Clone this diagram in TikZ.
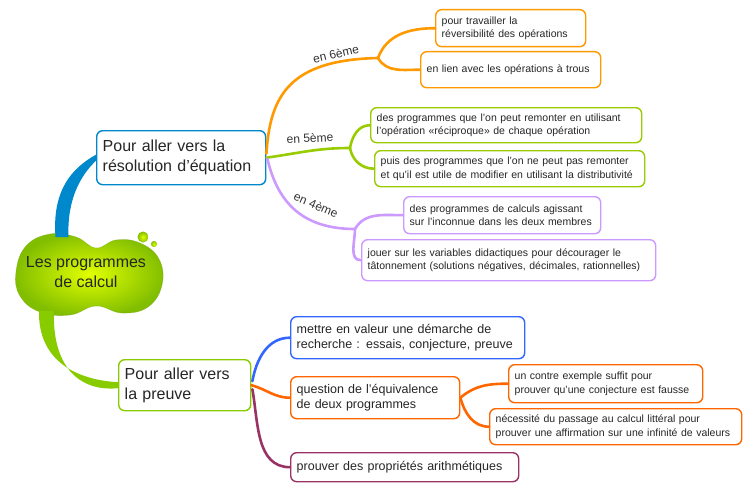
\documentclass[tikz,border=0pt]{standalone}
\usepackage{fontspec}
\setmainfont{Liberation Sans}
\usetikzlibrary{calc}

\definecolor{sixieme}{RGB}{255,153,0}
\definecolor{cinquieme}{RGB}{153,204,0}
\definecolor{quatrieme}{RGB}{204,153,255}
\definecolor{equblue}{RGB}{0,136,204}
\definecolor{preuvegreen}{RGB}{136,204,0}
\definecolor{valblue}{RGB}{51,102,255}
\definecolor{equiorange}{RGB}{255,102,0}
\definecolor{arithpurple}{RGB}{153,51,102}
\definecolor{blobin}{RGB}{225,255,0}
\definecolor{blobout}{RGB}{130,190,0}

\begin{document}
\begin{tikzpicture}[x=1pt, y=-1pt,
        box/.style={draw=#1, line width=1.4pt, rounded corners=6pt, fill=white, align=left,
            inner xsep=6pt, inner ysep=2pt, anchor=north west, text=black!85},
        leaf/.style={box=#1, font=\fontsize{10.5}{13.5}\selectfont},
        mid/.style={box=#1, font=\fontsize{12.5}{15}\selectfont},
        main/.style={box=#1, font=\fontsize{16}{20}\selectfont},
        link/.style={draw=#1, line width=2.6pt, line cap=round},
        grade/.style={font=\fontsize{12}{14}\selectfont, inner sep=1pt, text=black!80}]
    \useasboundingbox (0,0) rectangle (755,495);

    % central blob
    \shade[inner color=blobin, outer color=blobout] plot[smooth cycle, tension=.7] coordinates
        {(16,272) (26,246) (50,234) (76,237) (96,248) (116,240) (140,243) (159,259) (162,285) (148,307) (122,313) (96,306) (70,315) (40,312) (20,296)};
    \draw[blobout!80!black, opacity=.35, line width=.6pt] plot[smooth cycle, tension=.7] coordinates
        {(16,272) (26,246) (50,234) (76,237) (96,248) (116,240) (140,243) (159,259) (162,285) (148,307) (122,313) (96,306) (70,315) (40,312) (20,296)};
    \shade[inner color=blobin, outer color=blobout] (143,237) circle (5.5);
    \shade[inner color=blobin, outer color=blobout] (154,244) circle (3);
    \node[font=\fontsize{16}{20}\selectfont, align=center, text=black!85] (root) at (86,272) {Les programmes\\de calcul};
    \coordinate (rootN) at (62,237);
    \coordinate (rootS) at (47,311);

    % main branches
    \node[main=equblue, text width=157pt, minimum height=54pt] (res) at (96,130) {Pour aller vers la\\résolution d'équation};
    \node[main=preuvegreen, text width=120pt, minimum height=51pt] (preuve) at (118,359) {Pour aller vers\\la preuve};

    \fill[equblue] ($(rootN)+(-6.5,0)$) .. controls (52,190) and (72,168) .. ($(res.west)+(0,-3)$)
        -- ($(res.west)+(0,3)$) .. controls (80,176) and (67,200) .. ($(rootN)+(6.5,0)$) -- cycle;
    \fill[preuvegreen] ($(rootS)+(-8,0)$) .. controls (38,362) and (78,380) .. ($(preuve.west)+(0,-3)$)
        -- ($(preuve.west)+(0,3)$) .. controls (78,392) and (52,365) .. ($(rootS)+(7,0)$) -- cycle;

    % equation side
    \node[leaf=sixieme, text width=138pt, minimum height=37pt] (trav) at (435,9) {pour travailler la\\réversibilité des opérations};
    \node[leaf=sixieme, text width=168pt, minimum height=36pt] (trous) at (420,51) {en lien avec les opérations à trous};
    \node[leaf=cinquieme, text width=259pt, minimum height=35pt] (remont) at (370,107) {des programmes que l'on peut remonter en utilisant\\l'opération «réciproque» de chaque opération};
    \node[leaf=cinquieme, text width=258pt, minimum height=36pt] (distrib) at (374,150) {puis des programmes que l'on ne peut pas remonter\\et qu'il est utile de modifier en utilisant la distributivité};
    \node[leaf=quatrieme, text width=185pt, minimum height=37pt] (membres) at (403,196) {des programmes de calculs agissant\\sur l'inconnue dans les deux membres};
    \node[leaf=quatrieme, text width=282pt, minimum height=41pt] (didac) at (361,239) {jouer sur les variables didactiques pour décourager le\\tâtonnement (solutions négatives, décimales, rationnelles)};

    \coordinate (b6) at (378,58);
    \coordinate (b5) at (350,148);
    \coordinate (b4) at (355,229);
    \draw[link=sixieme] ($(res.east)+(0,-4)$) .. controls (270,95) and (290,60) .. (b6);
    \draw[link=sixieme] (b6) to[out=70,in=180] (trav.west);
    \draw[link=sixieme] (b6) to[out=-60,in=180] (trous.west);
    \draw[link=cinquieme] (res.east) to[out=8,in=180] (b5);
    \draw[link=cinquieme] (b5) to[out=80,in=180] (remont.west);
    \draw[link=cinquieme] (b5) to[out=-80,in=180] (distrib.west);
    \draw[link=quatrieme] ($(res.east)+(1,1)$) .. controls (278,205) and (305,229) .. (b4);
    \draw[link=quatrieme] (b4) to[out=60,in=180] (membres.west);
    \draw[link=quatrieme] (b4) to[out=-90,in=180] (didac.west);

    \node[grade, rotate=13] (l6) at (336,54) {en 6ème};
    \node[grade, rotate=3] (l5) at (310,138) {en 5ème};
    \node[grade, rotate=-23] (l4) at (316,205) {en 4ème};

    % preuve side
    \node[mid=valblue, text width=222pt, minimum height=42pt] (demarche) at (290,316) {mettre en valeur une démarche de\\recherche : essais, conjecture, preuve};
    \node[mid=equiorange, text width=157pt, minimum height=42pt] (equiv) at (290,376) {question de l'équivalence\\de deux programmes};
    \node[mid=arithpurple, text width=216pt, minimum height=29pt] (arith) at (290,452) {prouver des propriétés arithmétiques};
    \node[leaf=equiorange, text width=182pt, minimum height=38pt] (contre) at (508,364) {un contre exemple suffit pour\\prouver qu'une conjecture est fausse};
    \node[leaf=equiorange, text width=240pt, minimum height=36pt] (litteral) at (489,408) {nécessité du passage au calcul littéral pour\\prouver une affirmation sur une infinité de valeurs};

    \draw[link=valblue] ($(preuve.east)+(1,-4)$) to[out=80,in=180] (demarche.west);
    \draw[link=equiorange] (preuve.east) to[out=-15,in=180] (equiv.west);
    \draw[link=arithpurple] ($(preuve.east)+(1,4)$) to[out=-80,in=180] (arith.west);
    \draw[link=equiorange] (equiv.east) to[out=40,in=180] (contre.west);
    \draw[link=equiorange] (equiv.east) to[out=-75,in=180] (litteral.west);
\end{tikzpicture}
\end{document}
